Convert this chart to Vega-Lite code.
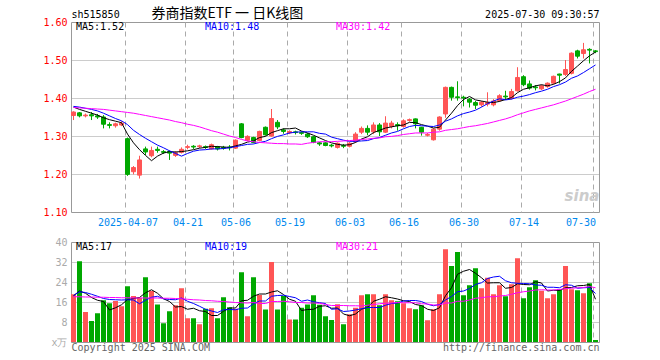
{
 "$schema": "https://vega.github.io/schema/vega-lite/v6.json",
 "background": "white",
 "padding": {"left": 42, "top": 6, "right": 0, "bottom": 0},
 "spacing": 8,
 "config": {
  "view": {"stroke": "#999999", "strokeWidth": 1},
  "font": "DejaVu Sans Mono",
  "axis": {"labelFont": "DejaVu Sans Mono", "labelFontSize": 10, "titleFont": "DejaVu Sans Mono", "titleFontSize": 10, "titleFontWeight": "normal"}
 },
 "datasets": {
  "k": [
{"d":"2025-03-24","o":1.354,"h":1.365,"l":1.342,"c":1.363,"v":19.1,"dir":"u","m5":1.376,"m10":1.378,"m30":1.375,"v5":18.5,"v10":18.6,"v30":18.1},
{"d":"2025-03-25","o":1.361,"h":1.363,"l":1.349,"c":1.353,"v":32.3,"dir":"d","m5":1.370,"m10":1.376,"m30":1.374,"v5":20.4,"v10":20.1,"v30":18.1},
{"d":"2025-03-26","o":1.353,"h":1.359,"l":1.349,"c":1.355,"v":12.0,"dir":"u","m5":1.365,"m10":1.373,"m30":1.373,"v5":19.5,"v10":19.8,"v30":18.0},
{"d":"2025-03-27","o":1.356,"h":1.363,"l":1.342,"c":1.353,"v":8.4,"dir":"d","m5":1.360,"m10":1.370,"m30":1.372,"v5":17.8,"v10":19.1,"v30":18.0},
{"d":"2025-03-28","o":1.353,"h":1.358,"l":1.345,"c":1.350,"v":11.5,"dir":"d","m5":1.355,"m10":1.366,"m30":1.371,"v5":16.7,"v10":18.3,"v30":17.9},
{"d":"2025-03-31","o":1.350,"h":1.355,"l":1.320,"c":1.331,"v":16.7,"dir":"d","m5":1.348,"m10":1.360,"m30":1.370,"v5":16.2,"v10":17.4,"v30":17.9},
{"d":"2025-04-01","o":1.330,"h":1.336,"l":1.320,"c":1.328,"v":15.5,"dir":"d","m5":1.343,"m10":1.353,"m30":1.368,"v5":12.8,"v10":17.0,"v30":17.8},
{"d":"2025-04-02","o":1.327,"h":1.335,"l":1.322,"c":1.332,"v":16.4,"dir":"u","m5":1.339,"m10":1.346,"m30":1.366,"v5":13.7,"v10":16.9,"v30":17.8},
{"d":"2025-04-03","o":1.329,"h":1.339,"l":1.326,"c":1.334,"v":14.3,"dir":"u","m5":1.335,"m10":1.340,"m30":1.364,"v5":14.9,"v10":16.8,"v30":17.7},
{"d":"2025-04-07","o":1.293,"h":1.296,"l":1.195,"c":1.199,"v":22.3,"dir":"d","m5":1.305,"m10":1.330,"m30":1.362,"v5":17.0,"v10":16.9,"v30":17.7},
{"d":"2025-04-08","o":1.206,"h":1.221,"l":1.199,"c":1.217,"v":18.4,"dir":"u","m5":1.282,"m10":1.315,"m30":1.360,"v5":17.4,"v10":16.8,"v30":17.6},
{"d":"2025-04-09","o":1.197,"h":1.248,"l":1.188,"c":1.237,"v":17.7,"dir":"u","m5":1.264,"m10":1.304,"m30":1.357,"v5":17.8,"v10":15.3,"v30":17.6},
{"d":"2025-04-10","o":1.266,"h":1.272,"l":1.250,"c":1.258,"v":25.9,"dir":"d","m5":1.249,"m10":1.294,"m30":1.354,"v5":19.7,"v10":16.7,"v30":17.6},
{"d":"2025-04-11","o":1.248,"h":1.272,"l":1.244,"c":1.262,"v":20.4,"dir":"u","m5":1.235,"m10":1.285,"m30":1.351,"v5":20.9,"v10":17.9,"v30":17.6},
{"d":"2025-04-14","o":1.265,"h":1.272,"l":1.256,"c":1.262,"v":15.0,"dir":"d","m5":1.247,"m10":1.276,"m30":1.348,"v5":19.5,"v10":18.3,"v30":17.6},
{"d":"2025-04-15","o":1.259,"h":1.263,"l":1.253,"c":1.257,"v":7.5,"dir":"d","m5":1.255,"m10":1.269,"m30":1.345,"v5":17.3,"v10":17.3,"v30":17.5},
{"d":"2025-04-16","o":1.259,"h":1.262,"l":1.237,"c":1.255,"v":12.3,"dir":"d","m5":1.259,"m10":1.261,"m30":1.342,"v5":16.2,"v10":17.0,"v30":17.5},
{"d":"2025-04-17","o":1.249,"h":1.260,"l":1.245,"c":1.256,"v":14.7,"dir":"u","m5":1.258,"m10":1.254,"m30":1.338,"v5":14.0,"v10":16.9,"v30":17.4},
{"d":"2025-04-18","o":1.257,"h":1.270,"l":1.254,"c":1.265,"v":21.5,"dir":"u","m5":1.259,"m10":1.247,"m30":1.335,"v5":14.2,"v10":17.6,"v30":17.3},
{"d":"2025-04-21","o":1.270,"h":1.277,"l":1.265,"c":1.272,"v":9.5,"dir":"u","m5":1.261,"m10":1.254,"m30":1.331,"v5":13.1,"v10":16.3,"v30":17.1},
{"d":"2025-04-22","o":1.273,"h":1.276,"l":1.266,"c":1.271,"v":9.5,"dir":"d","m5":1.264,"m10":1.260,"m30":1.328,"v5":13.5,"v10":15.4,"v30":16.9},
{"d":"2025-04-23","o":1.272,"h":1.277,"l":1.268,"c":1.274,"v":7.1,"dir":"u","m5":1.268,"m10":1.263,"m30":1.324,"v5":12.5,"v10":14.3,"v30":16.8},
{"d":"2025-04-24","o":1.272,"h":1.275,"l":1.266,"c":1.270,"v":13.3,"dir":"d","m5":1.270,"m10":1.264,"m30":1.319,"v5":12.2,"v10":13.1,"v30":16.6},
{"d":"2025-04-25","o":1.266,"h":1.280,"l":1.264,"c":1.277,"v":13.5,"dir":"u","m5":1.273,"m10":1.266,"m30":1.314,"v5":10.6,"v10":12.4,"v30":16.5},
{"d":"2025-04-28","o":1.272,"h":1.274,"l":1.262,"c":1.266,"v":9.5,"dir":"d","m5":1.272,"m10":1.266,"m30":1.310,"v5":10.6,"v10":11.8,"v30":16.3},
{"d":"2025-04-29","o":1.270,"h":1.274,"l":1.264,"c":1.268,"v":17.9,"dir":"d","m5":1.271,"m10":1.267,"m30":1.305,"v5":12.3,"v10":12.9,"v30":16.2},
{"d":"2025-04-30","o":1.271,"h":1.276,"l":1.262,"c":1.269,"v":13.9,"dir":"d","m5":1.270,"m10":1.269,"m30":1.300,"v5":13.6,"v10":13.0,"v30":16.0},
{"d":"2025-05-06","o":1.268,"h":1.291,"l":1.266,"c":1.289,"v":13.3,"dir":"u","m5":1.274,"m10":1.272,"m30":1.296,"v5":13.6,"v10":12.9,"v30":15.8},
{"d":"2025-05-07","o":1.332,"h":1.334,"l":1.294,"c":1.296,"v":27.9,"dir":"d","m5":1.278,"m10":1.275,"m30":1.291,"v5":16.5,"v10":13.5,"v30":15.7},
{"d":"2025-05-08","o":1.289,"h":1.302,"l":1.287,"c":1.299,"v":10.3,"dir":"u","m5":1.284,"m10":1.278,"m30":1.287,"v5":16.7,"v10":13.6,"v30":15.6},
{"d":"2025-05-09","o":1.296,"h":1.298,"l":1.281,"c":1.283,"v":25.9,"dir":"d","m5":1.287,"m10":1.279,"m30":1.285,"v5":18.3,"v10":15.3,"v30":15.8},
{"d":"2025-05-12","o":1.288,"h":1.314,"l":1.286,"c":1.312,"v":18.8,"dir":"u","m5":1.296,"m10":1.283,"m30":1.283,"v5":19.2,"v10":16.4,"v30":15.4},
{"d":"2025-05-13","o":1.323,"h":1.325,"l":1.301,"c":1.303,"v":13.0,"dir":"d","m5":1.299,"m10":1.286,"m30":1.282,"v5":19.2,"v10":16.4,"v30":15.4},
{"d":"2025-05-14","o":1.300,"h":1.371,"l":1.298,"c":1.346,"v":32.0,"dir":"u","m5":1.309,"m10":1.293,"m30":1.281,"v5":20.0,"v10":18.3,"v30":16.2},
{"d":"2025-05-15","o":1.336,"h":1.342,"l":1.318,"c":1.324,"v":13.0,"dir":"d","m5":1.314,"m10":1.299,"m30":1.280,"v5":20.5,"v10":18.6,"v30":16.2},
{"d":"2025-05-16","o":1.316,"h":1.320,"l":1.306,"c":1.312,"v":18.4,"dir":"d","m5":1.319,"m10":1.303,"m30":1.280,"v5":19.0,"v10":18.7,"v30":16.3},
{"d":"2025-05-19","o":1.308,"h":1.315,"l":1.305,"c":1.312,"v":9.0,"dir":"u","m5":1.319,"m10":1.308,"m30":1.279,"v5":17.1,"v10":18.2,"v30":16.1},
{"d":"2025-05-20","o":1.311,"h":1.314,"l":1.304,"c":1.309,"v":9.0,"dir":"d","m5":1.321,"m10":1.310,"m30":1.279,"v5":16.3,"v10":17.7,"v30":15.8},
{"d":"2025-05-21","o":1.309,"h":1.312,"l":1.303,"c":1.307,"v":13.7,"dir":"d","m5":1.313,"m10":1.311,"m30":1.278,"v5":12.6,"v10":16.3,"v30":15.8},
{"d":"2025-05-22","o":1.305,"h":1.308,"l":1.295,"c":1.298,"v":15.0,"dir":"d","m5":1.308,"m10":1.311,"m30":1.281,"v5":13.0,"v10":16.8,"v30":15.6},
{"d":"2025-05-23","o":1.298,"h":1.300,"l":1.281,"c":1.283,"v":18.7,"dir":"d","m5":1.302,"m10":1.311,"m30":1.283,"v5":13.1,"v10":16.1,"v30":15.6},
{"d":"2025-05-26","o":1.282,"h":1.284,"l":1.274,"c":1.279,"v":14.9,"dir":"d","m5":1.295,"m10":1.307,"m30":1.285,"v5":14.3,"v10":15.7,"v30":15.5},
{"d":"2025-05-27","o":1.282,"h":1.284,"l":1.273,"c":1.275,"v":10.3,"dir":"d","m5":1.288,"m10":1.305,"m30":1.285,"v5":14.5,"v10":15.4,"v30":15.0},
{"d":"2025-05-28","o":1.276,"h":1.279,"l":1.270,"c":1.274,"v":8.8,"dir":"d","m5":1.282,"m10":1.297,"m30":1.285,"v5":13.5,"v10":13.1,"v30":14.6},
{"d":"2025-05-29","o":1.270,"h":1.283,"l":1.267,"c":1.281,"v":15.1,"dir":"u","m5":1.278,"m10":1.293,"m30":1.286,"v5":13.6,"v10":13.3,"v30":14.6},
{"d":"2025-05-30","o":1.275,"h":1.279,"l":1.268,"c":1.273,"v":7.1,"dir":"d","m5":1.276,"m10":1.289,"m30":1.287,"v5":11.2,"v10":12.2,"v30":14.6},
{"d":"2025-06-03","o":1.273,"h":1.284,"l":1.270,"c":1.281,"v":11.1,"dir":"u","m5":1.277,"m10":1.286,"m30":1.288,"v5":10.5,"v10":12.4,"v30":14.5},
{"d":"2025-06-04","o":1.285,"h":1.310,"l":1.282,"c":1.305,"v":13.7,"dir":"u","m5":1.283,"m10":1.286,"m30":1.289,"v5":11.2,"v10":12.8,"v30":14.5},
{"d":"2025-06-05","o":1.310,"h":1.325,"l":1.305,"c":1.320,"v":18.7,"dir":"u","m5":1.292,"m10":1.287,"m30":1.291,"v5":13.1,"v10":13.3,"v30":14.4},
{"d":"2025-06-06","o":1.320,"h":1.328,"l":1.302,"c":1.310,"v":19.1,"dir":"d","m5":1.298,"m10":1.288,"m30":1.292,"v5":13.9,"v10":13.8,"v30":14.7},
{"d":"2025-06-09","o":1.311,"h":1.336,"l":1.305,"c":1.329,"v":19.1,"dir":"u","m5":1.309,"m10":1.293,"m30":1.294,"v5":16.3,"v10":13.8,"v30":15.0},
{"d":"2025-06-10","o":1.329,"h":1.334,"l":1.300,"c":1.311,"v":14.7,"dir":"d","m5":1.315,"m10":1.296,"m30":1.295,"v5":17.1,"v10":13.8,"v30":15.3},
{"d":"2025-06-11","o":1.310,"h":1.352,"l":1.308,"c":1.334,"v":19.1,"dir":"u","m5":1.321,"m10":1.302,"m30":1.298,"v5":18.1,"v10":14.7,"v30":15.5},
{"d":"2025-06-12","o":1.325,"h":1.340,"l":1.320,"c":1.334,"v":16.7,"dir":"u","m5":1.324,"m10":1.308,"m30":1.299,"v5":17.7,"v10":15.4,"v30":15.6},
{"d":"2025-06-13","o":1.330,"h":1.336,"l":1.314,"c":1.327,"v":16.3,"dir":"d","m5":1.327,"m10":1.312,"m30":1.301,"v5":17.2,"v10":15.6,"v30":15.8},
{"d":"2025-06-16","o":1.325,"h":1.344,"l":1.322,"c":1.340,"v":15.5,"dir":"u","m5":1.329,"m10":1.319,"m30":1.304,"v5":16.5,"v10":16.4,"v30":15.7},
{"d":"2025-06-17","o":1.341,"h":1.346,"l":1.338,"c":1.343,"v":13.5,"dir":"u","m5":1.336,"m10":1.325,"m30":1.306,"v5":16.2,"v10":16.6,"v30":15.7},
{"d":"2025-06-18","o":1.345,"h":1.346,"l":1.320,"c":1.332,"v":13.1,"dir":"d","m5":1.335,"m10":1.328,"m30":1.308,"v5":15.0,"v10":16.6,"v30":15.7},
{"d":"2025-06-19","o":1.323,"h":1.324,"l":1.301,"c":1.310,"v":14.7,"dir":"d","m5":1.330,"m10":1.327,"m30":1.308,"v5":14.6,"v10":16.2,"v30":15.3},
{"d":"2025-06-20","o":1.302,"h":1.308,"l":1.299,"c":1.304,"v":8.7,"dir":"u","m5":1.326,"m10":1.326,"m30":1.308,"v5":13.1,"v10":15.1,"v30":15.2},
{"d":"2025-06-23","o":1.290,"h":1.320,"l":1.288,"c":1.318,"v":13.1,"dir":"u","m5":1.321,"m10":1.325,"m30":1.310,"v5":12.6,"v10":14.5,"v30":14.8},
{"d":"2025-06-24","o":1.318,"h":1.352,"l":1.314,"c":1.350,"v":19.1,"dir":"u","m5":1.323,"m10":1.329,"m30":1.311,"v5":13.7,"v10":15.0,"v30":14.8},
{"d":"2025-06-25","o":1.358,"h":1.430,"l":1.348,"c":1.428,"v":37.1,"dir":"u","m5":1.342,"m10":1.339,"m30":1.315,"v5":18.5,"v10":16.8,"v30":15.6},
{"d":"2025-06-26","o":1.428,"h":1.430,"l":1.393,"c":1.402,"v":30.4,"dir":"d","m5":1.360,"m10":1.345,"m30":1.317,"v5":21.7,"v10":18.2,"v30":15.6},
{"d":"2025-06-27","o":1.403,"h":1.444,"l":1.393,"c":1.401,"v":36.0,"dir":"d","m5":1.380,"m10":1.353,"m30":1.319,"v5":27.1,"v10":20.1,"v30":16.3},
{"d":"2025-06-30","o":1.402,"h":1.406,"l":1.378,"c":1.400,"v":18.7,"dir":"d","m5":1.396,"m10":1.359,"m30":1.322,"v5":28.3,"v10":20.4,"v30":16.3},
{"d":"2025-07-01","o":1.397,"h":1.400,"l":1.375,"c":1.389,"v":22.7,"dir":"d","m5":1.404,"m10":1.363,"m30":1.325,"v5":29.0,"v10":21.4,"v30":16.8},
{"d":"2025-07-02","o":1.388,"h":1.392,"l":1.371,"c":1.381,"v":29.5,"dir":"d","m5":1.395,"m10":1.368,"m30":1.327,"v5":27.5,"v10":23.0,"v30":17.5},
{"d":"2025-07-03","o":1.382,"h":1.392,"l":1.377,"c":1.389,"v":21.5,"dir":"u","m5":1.392,"m10":1.376,"m30":1.330,"v5":25.7,"v10":23.7,"v30":17.7},
{"d":"2025-07-04","o":1.384,"h":1.415,"l":1.378,"c":1.388,"v":25.7,"dir":"u","m5":1.389,"m10":1.385,"m30":1.333,"v5":23.6,"v10":25.4,"v30":18.1},
{"d":"2025-07-07","o":1.382,"h":1.397,"l":1.378,"c":1.392,"v":19.1,"dir":"u","m5":1.388,"m10":1.392,"m30":1.337,"v5":23.7,"v10":26.0,"v30":18.1},
{"d":"2025-07-08","o":1.393,"h":1.410,"l":1.390,"c":1.406,"v":22.7,"dir":"u","m5":1.391,"m10":1.398,"m30":1.341,"v5":23.7,"v10":26.3,"v30":18.4},
{"d":"2025-07-09","o":1.405,"h":1.419,"l":1.396,"c":1.403,"v":18.3,"dir":"d","m5":1.396,"m10":1.395,"m30":1.345,"v5":21.5,"v10":24.5,"v30":18.6},
{"d":"2025-07-10","o":1.399,"h":1.424,"l":1.396,"c":1.417,"v":23.1,"dir":"u","m5":1.401,"m10":1.397,"m30":1.350,"v5":21.8,"v10":23.7,"v30":19.1},
{"d":"2025-07-11","o":1.419,"h":1.481,"l":1.417,"c":1.454,"v":33.5,"dir":"u","m5":1.414,"m10":1.402,"m30":1.356,"v5":23.3,"v10":23.5,"v30":19.7},
{"d":"2025-07-14","o":1.456,"h":1.460,"l":1.431,"c":1.435,"v":17.5,"dir":"d","m5":1.423,"m10":1.405,"m30":1.361,"v5":23.0,"v10":23.4,"v30":20.1},
{"d":"2025-07-15","o":1.437,"h":1.446,"l":1.422,"c":1.426,"v":21.9,"dir":"d","m5":1.427,"m10":1.409,"m30":1.366,"v5":22.9,"v10":23.3,"v30":20.4},
{"d":"2025-07-16","o":1.429,"h":1.434,"l":1.420,"c":1.427,"v":24.7,"dir":"d","m5":1.432,"m10":1.414,"m30":1.370,"v5":24.1,"v10":22.8,"v30":20.8},
{"d":"2025-07-17","o":1.424,"h":1.435,"l":1.421,"c":1.432,"v":20.5,"dir":"u","m5":1.435,"m10":1.418,"m30":1.374,"v5":23.6,"v10":22.7,"v30":20.9},
{"d":"2025-07-18","o":1.430,"h":1.441,"l":1.427,"c":1.439,"v":17.5,"dir":"u","m5":1.432,"m10":1.423,"m30":1.378,"v5":20.4,"v10":21.9,"v30":20.8},
{"d":"2025-07-21","o":1.439,"h":1.459,"l":1.436,"c":1.457,"v":19.1,"dir":"u","m5":1.436,"m10":1.430,"m30":1.382,"v5":20.7,"v10":21.9,"v30":20.8},
{"d":"2025-07-22","o":1.463,"h":1.464,"l":1.438,"c":1.460,"v":21.1,"dir":"d","m5":1.443,"m10":1.435,"m30":1.387,"v5":20.6,"v10":21.7,"v30":21.0},
{"d":"2025-07-23","o":1.462,"h":1.500,"l":1.458,"c":1.475,"v":30.4,"dir":"u","m5":1.453,"m10":1.442,"m30":1.392,"v5":21.7,"v10":22.9,"v30":21.4},
{"d":"2025-07-24","o":1.465,"h":1.520,"l":1.462,"c":1.518,"v":21.1,"dir":"u","m5":1.470,"m10":1.452,"m30":1.398,"v5":21.8,"v10":22.7,"v30":21.5},
{"d":"2025-07-25","o":1.524,"h":1.527,"l":1.504,"c":1.510,"v":20.7,"dir":"d","m5":1.484,"m10":1.458,"m30":1.404,"v5":22.5,"v10":21.5,"v30":21.7},
{"d":"2025-07-28","o":1.517,"h":1.545,"l":1.504,"c":1.527,"v":19.5,"dir":"u","m5":1.498,"m10":1.467,"m30":1.410,"v5":22.6,"v10":21.7,"v30":21.8},
{"d":"2025-07-29","o":1.528,"h":1.531,"l":1.491,"c":1.526,"v":23.5,"dir":"d","m5":1.511,"m10":1.477,"m30":1.417,"v5":23.0,"v10":21.8,"v30":22.2},
{"d":"2025-07-30","o":1.524,"h":1.526,"l":1.518,"c":1.522,"v":0.8,"dir":"d","m5":1.521,"m10":1.487,"m30":1.423,"v5":17.1,"v10":19.4,"v30":21.7}
  ]
 },
 "vconcat": [
  {
   "width": 528,
   "height": 190,
   "resolve": {"axis": {"x": "independent", "y": "independent"}},
   "layer": [
    {
     "data": {"name": "k"},
     "mark": {"type": "rule", "xOffset": -0.5, "strokeWidth": 1},
     "encoding": {
      "x": {"field": "d", "type": "ordinal", "scale": {"paddingInner": 0, "paddingOuter": 0},
        "axis": {"orient": "bottom", "values": ["2025-04-07","2025-04-21","2025-05-06","2025-05-19","2025-06-03","2025-06-16","2025-06-30","2025-07-14","2025-07-30"],
          "labelExpr": "datum.value == '2025-04-07' ? datum.value : substring(datum.value, 5)",
          "labelAngle": 0, "labelColor": "#0088ee", "labelPadding": 5, "labelFlush": false, "labelOverlap": false, "labelBound": false,
          "labelAlign": {"condition": {"test": "datum.value == '2025-07-30'", "value": "right"}, "value": "center"},
          "ticks": false, "domain": false, "grid": true, "gridColor": "#aaaaaa", "gridDash": [5, 4], "bandPosition": 0, "title": null}},
      "y": {"field": "l", "type": "quantitative", "scale": {"domain": [1.1, 1.6], "zero": false, "nice": false},
        "axis": {"orient": "left", "values": [1.1, 1.2, 1.3, 1.4, 1.5, 1.6], "format": ".2f", "labelColor": "#ff0000", "labelPadding": 4,
          "ticks": false, "domain": false, "grid": true, "gridColor": "#999999", "gridDash": [1, 1],
          "gridOpacity": {"condition": {"test": "datum.value < 1.15 || datum.value > 1.55", "value": 0}, "value": 1},
          "title": "sh515850", "titleAngle": 0, "titleAlign": "left", "titleBaseline": "middle", "titleX": 0, "titleY": -8, "titleColor": "#000000"}},
      "y2": {"field": "h"},
      "color": {"field": "dir", "type": "nominal", "scale": {"domain": ["u", "d"], "range": ["#ff5555", "#00a800"]}, "legend": null}
     }
    },
    {
     "data": {"name": "k"},
     "mark": {"type": "bar", "width": 4, "xOffset": -0.5, "strokeWidth": 1},
     "encoding": {
      "x": {"field": "d", "type": "ordinal",
        "axis": {"orient": "top", "labels": false, "ticks": false, "domain": false, "grid": false,
          "title": "券商指数ETF 一 日K线图", "titleFont": "Noto Sans CJK SC", "titleFontSize": 14, "titleAngle": 0, "titleAlign": "left", "titleBaseline": "middle", "titleX": 80, "titleY": -8.5, "titleColor": "#000000"}},
      "y": {"field": "o", "type": "quantitative", "axis": null},
      "y2": {"field": "c"},
      "color": {"field": "dir", "type": "nominal", "scale": {"domain": ["u", "d"], "range": ["#ff5555", "#00a800"]}, "legend": null},
      "stroke": {"field": "dir", "type": "nominal", "scale": {"domain": ["u", "d"], "range": ["#ff5555", "#00a800"]}, "legend": null}
     }
    },
    {
     "data": {"name": "k"},
     "mark": {"type": "line", "color": "#000000", "strokeWidth": 1, "xOffset": -0.5},
     "encoding": {"x": {"field": "d", "type": "ordinal", "axis": null}, "y": {"field": "m5", "type": "quantitative", "axis": null}}
    },
    {
     "data": {"name": "k"},
     "mark": {"type": "line", "color": "#0000ff", "strokeWidth": 1, "xOffset": -0.5},
     "encoding": {"x": {"field": "d", "type": "ordinal", "axis": null}, "y": {"field": "m10", "type": "quantitative", "axis": null}}
    },
    {
     "data": {"name": "k"},
     "mark": {"type": "line", "color": "#ff00ff", "strokeWidth": 1, "xOffset": -0.5},
     "encoding": {"x": {"field": "d", "type": "ordinal", "axis": null},
       "y": {"field": "m30", "type": "quantitative",
         "axis": {"orient": "right", "labels": false, "ticks": false, "domain": false, "grid": false,
           "title": "2025-07-30 09:30:57", "titleAngle": 0, "titleAlign": "right", "titleBaseline": "middle", "titleX": 0, "titleY": -8, "titleColor": "#000000"}}}
    },
    {
     "data": {"values": [{"d": "2025-03-24", "p": 1.586, "t": "MA5:1.52"}]},
     "mark": {"type": "text", "align": "left", "baseline": "middle", "dx": 2, "color": "#000000", "font": "DejaVu Sans Mono", "fontSize": 10},
     "encoding": {"x": {"field": "d", "type": "ordinal", "axis": null}, "y": {"field": "p", "type": "quantitative", "axis": null}, "text": {"field": "t"}}
    },
    {
     "data": {"values": [{"d": "2025-04-24", "p": 1.586, "t": "MA10:1.48"}]},
     "mark": {"type": "text", "align": "left", "baseline": "middle", "dx": -1, "color": "#0000ff", "font": "DejaVu Sans Mono", "fontSize": 10},
     "encoding": {"x": {"field": "d", "type": "ordinal", "axis": null}, "y": {"field": "p", "type": "quantitative", "axis": null}, "text": {"field": "t"}}
    },
    {
     "data": {"values": [{"d": "2025-05-29", "p": 1.586, "t": "MA30:1.42"}]},
     "mark": {"type": "text", "align": "left", "baseline": "middle", "dx": -2, "color": "#ff00ff", "font": "DejaVu Sans Mono", "fontSize": 10},
     "encoding": {"x": {"field": "d", "type": "ordinal", "axis": null}, "y": {"field": "p", "type": "quantitative", "axis": null}, "text": {"field": "t"}}
    },
    {
     "data": {"values": [{"d": "2025-07-28", "p": 1.143, "t": "sina"}]},
     "mark": {"type": "text", "align": "center", "baseline": "middle", "dx": -2, "color": "#cccccc", "font": "DejaVu Sans", "fontSize": 15, "fontWeight": "bold", "fontStyle": "italic"},
     "encoding": {"x": {"field": "d", "type": "ordinal", "axis": null}, "y": {"field": "p", "type": "quantitative", "axis": null}, "text": {"field": "t"}}
    }
   ]
  },
  {
   "width": 528,
   "height": 100,
   "resolve": {"axis": {"x": "independent", "y": "independent"}},
   "layer": [
    {
     "data": {"name": "k"},
     "mark": {"type": "bar", "width": 5, "xOffset": -0.5},
     "encoding": {
      "x": {"field": "d", "type": "ordinal", "scale": {"paddingInner": 0, "paddingOuter": 0},
        "axis": {"orient": "bottom", "values": ["2025-04-07","2025-04-21","2025-05-06","2025-05-19","2025-06-03","2025-06-16","2025-06-30","2025-07-14","2025-07-30"],
          "labels": false, "ticks": false, "domain": false, "grid": true, "gridColor": "#aaaaaa", "gridDash": [5, 4], "bandPosition": 0,
          "title": "Copyright 2025 SINA.COM", "titleAngle": 0, "titleAlign": "left", "titleBaseline": "middle", "titleX": 0, "titleY": 5, "titleColor": "#666666"}},
      "y": {"field": "v", "type": "quantitative", "scale": {"domain": [0, 40], "nice": false},
        "axis": {"orient": "left", "values": [0, 8, 16, 24, 32, 40], "labelExpr": "datum.value == 0 ? 'x万' : datum.label", "labelColor": "#aaaaaa", "labelPadding": 4,
          "ticks": false, "domain": false, "grid": true, "gridColor": "#999999", "gridDash": [1, 1],
          "gridOpacity": {"condition": {"test": "datum.value < 4 || datum.value > 36", "value": 0}, "value": 1}, "title": null}},
      "color": {"field": "dir", "type": "nominal", "scale": {"domain": ["u", "d"], "range": ["#ff5555", "#00a800"]}, "legend": null}
     }
    },
    {
     "data": {"name": "k"},
     "mark": {"type": "line", "color": "#000000", "strokeWidth": 1, "xOffset": -0.5},
     "encoding": {"x": {"field": "d", "type": "ordinal", "axis": null}, "y": {"field": "v5", "type": "quantitative", "axis": null}}
    },
    {
     "data": {"name": "k"},
     "mark": {"type": "line", "color": "#0000ff", "strokeWidth": 1, "xOffset": -0.5},
     "encoding": {"x": {"field": "d", "type": "ordinal", "axis": null}, "y": {"field": "v10", "type": "quantitative", "axis": null}}
    },
    {
     "data": {"name": "k"},
     "mark": {"type": "line", "color": "#ff00ff", "strokeWidth": 1, "xOffset": -0.5},
     "encoding": {"x": {"field": "d", "type": "ordinal", "axis": null},
       "y": {"field": "v30", "type": "quantitative",
         "axis": {"orient": "right", "labels": false, "ticks": false, "domain": false, "grid": false,
           "title": "http://finance.sina.com.cn", "titleAngle": 0, "titleAlign": "right", "titleBaseline": "middle", "titleX": 0, "titleY": 105, "titleColor": "#666666"}}}
    },
    {
     "data": {"values": [{"d": "2025-03-24", "q": 38.2, "t": "MA5:17"}]},
     "mark": {"type": "text", "align": "left", "baseline": "middle", "dx": 2, "color": "#000000", "font": "DejaVu Sans Mono", "fontSize": 10},
     "encoding": {"x": {"field": "d", "type": "ordinal", "axis": null}, "y": {"field": "q", "type": "quantitative", "axis": null}, "text": {"field": "t"}}
    },
    {
     "data": {"values": [{"d": "2025-04-24", "q": 38.2, "t": "MA10:19"}]},
     "mark": {"type": "text", "align": "left", "baseline": "middle", "dx": -1, "color": "#0000ff", "font": "DejaVu Sans Mono", "fontSize": 10},
     "encoding": {"x": {"field": "d", "type": "ordinal", "axis": null}, "y": {"field": "q", "type": "quantitative", "axis": null}, "text": {"field": "t"}}
    },
    {
     "data": {"values": [{"d": "2025-05-29", "q": 38.2, "t": "MA30:21"}]},
     "mark": {"type": "text", "align": "left", "baseline": "middle", "dx": -2, "color": "#ff00ff", "font": "DejaVu Sans Mono", "fontSize": 10},
     "encoding": {"x": {"field": "d", "type": "ordinal", "axis": null}, "y": {"field": "q", "type": "quantitative", "axis": null}, "text": {"field": "t"}}
    }
   ]
  }
 ]
}
